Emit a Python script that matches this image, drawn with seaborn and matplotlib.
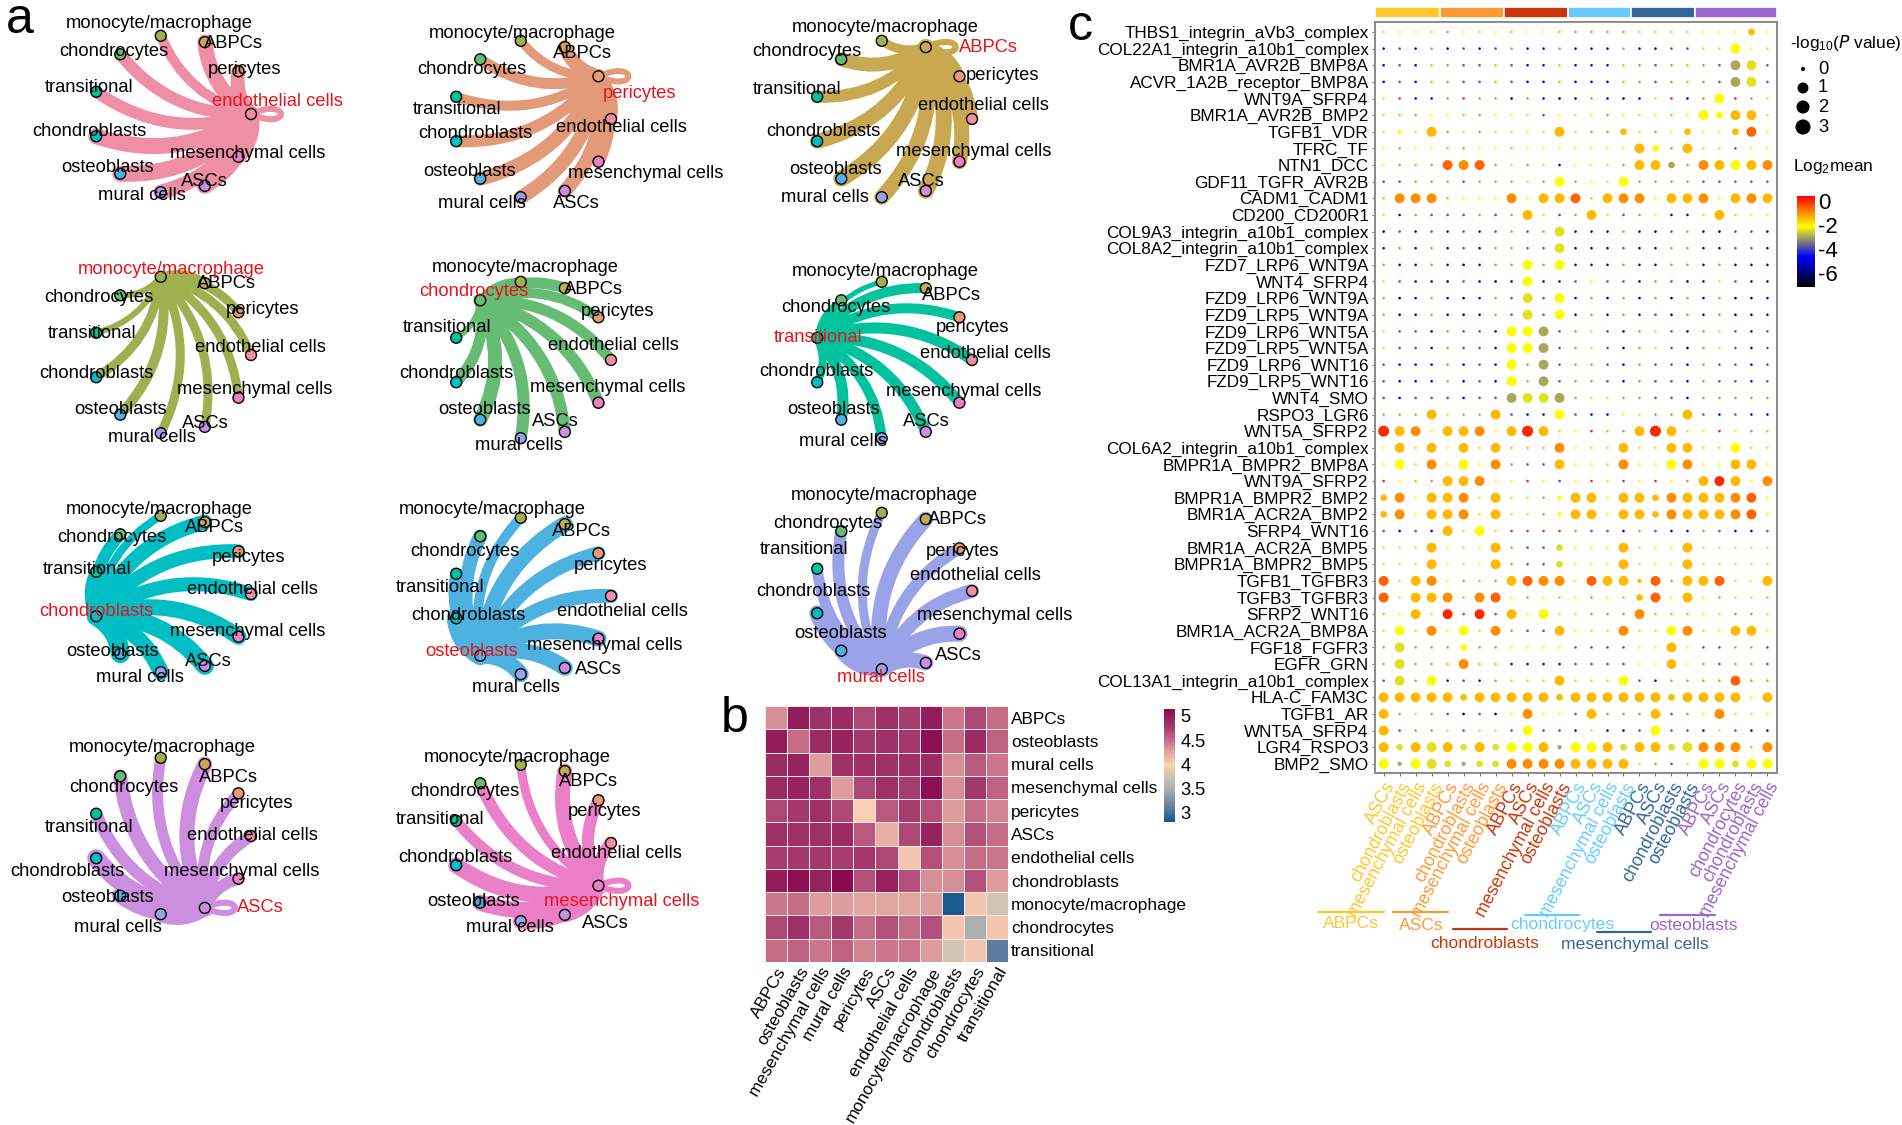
import numpy as np
import pandas as pd
import seaborn as sns
import matplotlib
matplotlib.use("Agg")
import matplotlib.pyplot as plt
from matplotlib.path import Path
from matplotlib.patches import PathPatch
from matplotlib.colors import LinearSegmentedColormap, Normalize
from matplotlib.cm import ScalarMappable

sns.set_style("white")
plt.rcParams['font.family'] = ['Liberation Sans', 'DejaVu Sans']
plt.rcParams['mathtext.default'] = 'regular'
plt.rcParams['text.color'] = 'black'
plt.rcParams['xtick.color'] = 'black'
plt.rcParams['ytick.color'] = 'black'

W, H = 1902, 1125
TXT = 13.2
#------------------------------------
# a: circle networks, one per source cell type
node_names = ['endothelial cells', 'pericytes', 'ABPCs', 'monocyte/macrophage', 'chondrocytes', 'transitional',
              'chondroblasts', 'osteoblasts', 'mural cells', 'ASCs', 'mesenchymal cells']
node_colors = ['#EE8FA5', '#E39A78', '#C8A850', '#A0B050', '#66BB75', '#00C29C',
               '#00BFC4', '#4DB2E0', '#9AA2E8', '#CC8FE0', '#EC80C8']
# source index, centre of the circle
panel_source = [0, 1, 2, 3, 4, 5, 6, 7, 8, 9, 10]
panel_center = [(172, 114), (532, 119), (893, 119), (172, 355), (532, 360), (893, 360),
                (172, 594), (532, 596), (893, 591), (172, 836), (532, 843)]
CIRCLE_R = 79
# edge widths in px, same order as node_names
edge_width = [
    [0, 14, 15, 10, 12, 12, 16, 16, 15, 16, 15],
    [12, 0, 14, 9, 11, 10, 12, 14, 14, 14, 12],
    [12, 11, 0, 9, 14, 12, 15, 16, 15, 16, 15],
    [9, 9, 8, 0, 6, 6, 9, 10, 9, 9, 9],
    [11, 10, 11, 8, 0, 6, 11, 14, 12, 12, 12],
    [11, 10, 10, 5, 5, 0, 8, 11, 10, 11, 11],
    [14, 14, 15, 8, 12, 12, 0, 19, 16, 18, 16],
    [14, 14, 16, 10, 14, 12, 19, 0, 16, 16, 16],
    [14, 12, 15, 9, 12, 11, 16, 15, 0, 15, 16],
    [12, 11, 15, 11, 14, 12, 18, 16, 16, 0, 12],
    [12, 12, 15, 9, 12, 11, 16, 16, 16, 15, 0],
]
self_loop = [6, 6, 6, 0, 0, 0, 0, 0, 0, 6, 6]
# label centres, same order as node_names
label_pos = [
    [(277, 102), (245, 70), (233, 44), (159, 24), (114, 51), (89, 87), (89, 131), (108, 168), (142, 195), (204, 182), (248, 153)],
    [(621, 128), (640, 93), (582, 53), (522, 33), (472, 69), (457, 109), (475, 134), (470, 171), (482, 203), (576, 203), (646, 173)],
    [(983, 106), (1003, 75), (988, 48), (885, 28), (807, 51), (797, 89), (823, 131), (836, 169), (825, 198), (921, 181), (974, 152)],
    [(260, 348), (263, 309), (226, 284), (171, 269), (99, 297), (92, 333), (96, 374), (121, 410), (152, 438), (205, 423), (255, 389)],
    [(613, 346), (618, 311), (593, 289), (525, 267), (474, 291), (447, 327), (456, 374), (485, 409), (519, 445), (555, 421), (608, 388)],
    [(985, 353), (973, 327), (951, 296), (885, 271), (836, 307), (818, 338), (816, 371), (834, 409), (843, 442), (926, 421), (964, 392)],
    [(252, 589), (249, 557), (214, 528), (159, 510), (112, 538), (87, 570), (96, 611), (113, 652), (140, 678), (208, 661), (248, 631)],
    [(622, 612), (611, 566), (581, 531), (492, 510), (465, 551), (440, 587), (468, 616), (472, 651), (516, 687), (598, 670), (605, 646)],
    [(975, 575), (963, 551), (957, 519), (884, 496), (828, 523), (804, 550), (813, 591), (841, 634), (881, 677), (958, 655), (995, 616)],
    [(252, 836), (257, 803), (228, 778), (162, 748), (124, 788), (89, 828), (67, 872), (108, 897), (118, 927), (260, 907), (242, 872)],
    [(616, 854), (605, 811), (588, 781), (517, 757), (465, 792), (440, 819), (455, 857), (474, 901), (510, 928), (605, 923), (622, 901)],
]
#------------------------------------
# b: heatmap
heat_rows = ['ABPCs', 'osteoblasts', 'mural cells', 'mesenchymal cells', 'pericytes', 'ASCs',
             'endothelial cells', 'chondroblasts', 'monocyte/macrophage', 'chondrocytes', 'transitional']
heat_cols = ['ABPCs', 'osteoblasts', 'mesenchymal cells', 'mural cells', 'pericytes', 'ASCs',
             'endothelial cells', 'monocyte/macrophage', 'chondroblasts', 'chondrocytes', 'transitional']
heat_values = [
    [4.35, 5.0, 4.85, 4.9, 4.7, 4.85, 4.75, 5.0, 4.45, 4.7, 4.5],
    [5.0, 4.5, 4.9, 4.95, 4.8, 4.85, 4.8, 5.1, 4.5, 4.9, 4.55],
    [4.9, 4.95, 4.3, 4.85, 4.85, 4.85, 4.85, 4.9, 4.35, 4.6, 4.45],
    [4.9, 4.95, 4.85, 4.3, 4.7, 4.85, 4.75, 5.1, 4.35, 4.8, 4.55],
    [4.7, 4.8, 4.85, 4.7, 4.0, 4.6, 4.75, 4.65, 4.3, 4.5, 4.4],
    [4.85, 4.85, 4.85, 4.9, 4.6, 4.2, 4.7, 4.95, 4.35, 4.65, 4.5],
    [4.75, 4.8, 4.8, 4.75, 4.8, 4.7, 4.05, 4.65, 4.35, 4.5, 4.45],
    [5.0, 5.1, 4.95, 5.15, 4.65, 4.95, 4.65, 4.35, 4.35, 4.65, 4.3],
    [4.45, 4.5, 4.3, 4.3, 4.25, 4.25, 4.25, 4.3, 2.85, 4.05, 3.8],
    [4.7, 4.85, 4.6, 4.8, 4.5, 4.65, 4.5, 4.65, 4.05, 3.5, 4.05],
    [4.5, 4.55, 4.45, 4.55, 4.4, 4.45, 4.45, 4.3, 3.8, 4.05, 3.1],
]
heat_ticks = [3, 3.5, 4, 4.5, 5]
heat_tick_labels = ['3', '3.5', '4', '4.5', '5']
#------------------------------------
# c: dot plot
pairs = ['THBS1_integrin_aVb3_complex', 'COL22A1_integrin_a10b1_complex', 'BMR1A_AVR2B_BMP8A', 'ACVR_1A2B_receptor_BMP8A',
         'WNT9A_SFRP4', 'BMR1A_AVR2B_BMP2', 'TGFB1_VDR', 'TFRC_TF', 'NTN1_DCC', 'GDF11_TGFR_AVR2B', 'CADM1_CADM1',
         'CD200_CD200R1', 'COL9A3_integrin_a10b1_complex', 'COL8A2_integrin_a10b1_complex', 'FZD7_LRP6_WNT9A', 'WNT4_SFRP4',
         'FZD9_LRP6_WNT9A', 'FZD9_LRP5_WNT9A', 'FZD9_LRP6_WNT5A', 'FZD9_LRP5_WNT5A', 'FZD9_LRP6_WNT16', 'FZD9_LRP5_WNT16',
         'WNT4_SMO', 'RSPO3_LGR6', 'WNT5A_SFRP2', 'COL6A2_integrin_a10b1_complex', 'BMPR1A_BMPR2_BMP8A', 'WNT9A_SFRP2',
         'BMPR1A_BMPR2_BMP2', 'BMR1A_ACR2A_BMP2', 'SFRP4_WNT16', 'BMR1A_ACR2A_BMP5', 'BMPR1A_BMPR2_BMP5', 'TGFB1_TGFBR3',
         'TGFB3_TGFBR3', 'SFRP2_WNT16', 'BMR1A_ACR2A_BMP8A', 'FGF18_FGFR3', 'EGFR_GRN', 'COL13A1_integrin_a10b1_complex',
         'HLA-C_FAM3C', 'TGFB1_AR', 'WNT5A_SFRP4', 'LGR4_RSPO3', 'BMP2_SMO']
groups = ['ABPCs', 'ASCs', 'chondroblasts', 'chondrocytes', 'mesenchymal cells', 'osteoblasts']
group_colors = ['#FFC72C', '#FF9933', '#C8360A', '#66CCFF', '#336699', '#9966CC']
group_members = [['ASCs', 'chondroblasts', 'mesenchymal cells', 'osteoblasts'],
                 ['ABPCs', 'chondroblasts', 'mesenchymal cells', 'osteoblasts'],
                 ['ABPCs', 'ASCs', 'mesenchymal cells', 'osteoblasts'],
                 ['ABPCs', 'ASCs', 'mesenchymal cells', 'osteoblasts'],
                 ['ABPCs', 'ASCs', 'chondroblasts', 'osteoblasts'],
                 ['ABPCs', 'ASCs', 'chondrocytes', 'chondroblasts', 'mesenchymal cells']]
# one letter per column: log2 mean
mean_code = {'K': -6.8, 'B': -5.0, 'G': -3.8, 'O': -3.0, 'L': -2.45, 'Y': -2.1, 'A': -1.45, 'o': -1.0, 'D': -0.6, 'R': 0.0}
mean_rows = [
    "LYYLOYLYAYYAooooLLLLYYYAY", "BGBOBGBGOBBOBBBOBKGGLLYYL", "BGBAOGGAGBBABBBAOGOAOGOLG", "BGBAOGGAGBBABBBAOGOAOGOLG",
    "LRBBOROOKOBKKOBKBLRBOYROL", "LAOYYAOYYLGYLYOYLYAYYYAAL", "LYLAOLOLLYLALOOALOYAYYADY", "YOYYAOYYAYYYYYYYAYOALLGYY",
    "YOAODoDoLOLBYYLOAAOOoAYAo", "GGOOOGOOOLOYOYLYOOOOGGGGG", "AoooAYYYoYAADAAooYAAoYAoA", "LBOGGGOGOALGOALGOYBBLALYY",
    "KGBGBGBGOGOLBBBOBKGOBKGGB", "BOBOBGBOOGGLBBBGBBOOBBGGB", "OBBOBKBOOYOYBBBOBBOOBOBBB", "LRBBKRBKBYBBGYGGKORKBLRBB",
    "OKBOBKBOGLGYBOBOBOKOBOKKB", "OKBOBKBOGLGYBOBOBGKOBOKKB", "LGGBOGGBYYOGOLGBOLGBOLGBG", "LGGBOGGBYYOGOLGBOLGBOLGBG",
    "GBBBOBGBYOOGOOGBOGGBOGGBG", "GBBBOBGBYOOGOOGBOGGBOGGBG", "GBGGGBGGOLLOOLLOOGGBOOOOO", "OOOALOOAGBBYGBBYLOOAGBGBB",
    "RAoYAAoYARALYRAOARALYRYOA", "YALAYALAAAAoYLLALLAALLYLL", "YYLoYYYoOGGAYYLoYYYoYYAAY", "RYAOAAoYYRYGYRLGYRYOARAYo",
    "AoYAAoLALLOYAAYAAAoAAAoDY", "AoYAAoLALLOYAAYAAAoAAAoDY", "GBGBALYLRRRROGGBOGBBOGBBG", "LLLAYLYAOGGLYYYALYYALLLLL",
    "LLLAYLYAOGGLYYYALYYALLLLL", "DLAoYOAoADooYDAAADOAADLYA", "DLAAoAoDYoYAYoYAADYAYoLLA", "AYALRRRRAYYLLOOOoAAAYLOOL",
    "LYLoYYLoOGGAYLLoLLYoLYAAY", "OLOOOYOOYYYYGGGGYYAYGGOOG", "OLOOAoAABBBBGGGGYYAYOGOOG", "GLOYBGBOLLLALLLYGBOOooDoo",
    "AAAAAAAAAAAAAAAAAAAAAAAYA", "AOLOGKGKYoYYGAOOOAGOYoLLY", "AROOLRLLGYGGBLBBGYRGBLRBB", "ALALALALYYAOYYALAALLoooAo",
    "YOYLLOLLooooAAAALOGLYYLYY",
]
# one digit per column: -log10 P
p_code = {'0': 0.0, '1': 0.3, '2': 1.0, '3': 2.4, '4': 3.0}
p_rows = [
    "0000000000000000000000020", "0000000000000000000000300", "0000000000000000000000330", "0000000000000000000000330",
    "0000000000000000000003000", "0000000000000000000032330", "0103000000030002000200230", "0000000000000000320300000",
    "0000333000000000332033333", "0000000000030003000000000", "0333000030333033303330333", "0000000003000300000003000",
    "0000000000030000000000000", "0000000000030000000000000", "0000000003030000000000000", "0000000003000000000000000",
    "0000000003030000000000000", "0000000003030000000000000", "0000000033300000000000000", "0000000033300000000000000",
    "0000000030300000000000000", "0000000030300000000000000", "0000000033330000000000000", "0003000300030000000300000",
    "4330333034300000343000000", "0303030300030003003300300", "0303030300030003003300330", "0000333000000000000033303",
    "2303330300013303323333330", "2303330300013303323333330", "0000303000000000000000000", "0003000300020003000300000",
    "0003000300020003000300000", "3033000033330333130333003", "3033303300000000230300000", "0030303030300000300000000",
    "0303030300030003003300330", "0300020000000000003000000", "0300030000000000003000000", "0303000000030003000000300",
    "3333323333323333332333303", "3000000003000300030003000", "3000000003000000030000000", "3233323233313332332333303",
    "3133212233333333000033233",
]
p_legend = [0, 1, 2, 3]
mean_ticks = [0, -2, -4, -6]
mean_tick_labels = ['0', '-2', '-4', '-6']
#------------------------------------
fig = plt.figure(figsize=(W / 100, H / 100), dpi=100)


def px_axes(left, top, right, bottom):
    return fig.add_axes([left / W, 1 - bottom / H, (right - left) / W, (bottom - top) / H])


# a -------------------------------
ax = px_axes(0, 0, W, H)
ax.set_xlim(0, W)
ax.set_ylim(H, 0)
ax.axis('off')
angles = np.arange(11) * 2 * np.pi / 11
for p, src in enumerate(panel_source):
    cx, cy = panel_center[p]
    xs = cx + CIRCLE_R * np.cos(angles)
    ys = cy - CIRCLE_R * np.sin(angles)
    col = node_colors[src]
    for t in range(11):
        if t == src:
            continue
        p0 = np.array([xs[src], ys[src]])
        p1 = np.array([xs[t], ys[t]])
        d = p1 - p0
        ctrl = (p0 + p1) / 2 + 0.25 * np.array([d[1], -d[0]])
        path = Path([p0, ctrl, p1], [Path.MOVETO, Path.CURVE3, Path.CURVE3])
        ax.add_patch(PathPatch(path, fc='none', ec=col, lw=edge_width[src][t] * 0.72, capstyle='round', zorder=2))
    if self_loop[src]:
        n = np.array([xs[src], ys[src]])
        path = Path([n, n + (40, -18), n + (40, 18), n], [Path.MOVETO, Path.CURVE4, Path.CURVE4, Path.CURVE4])
        ax.add_patch(PathPatch(path, fc='none', ec=col, lw=self_loop[src] * 0.72, zorder=2))
    ax.scatter(xs, ys, s=62, c=node_colors, edgecolors='black', linewidths=1, zorder=3)
    for t in range(11):
        lx, ly = label_pos[p][t]
        ax.text(lx, ly, node_names[t], ha='center', va='center', fontsize=TXT,
                color='#E8141C' if t == src else 'black', zorder=4)

ax.text(6, 33, 'a', fontsize=36, va='baseline', ha='left')
ax.text(721, 732, 'b', fontsize=36, va='baseline', ha='left')
ax.text(1068, 40, 'c', fontsize=36, va='baseline', ha='left')

# b -------------------------------
heat_cmap = LinearSegmentedColormap.from_list('heat', [
    (0.0, '#14558F'), (0.13, '#6280A0'), (0.3, '#B0B0B0'), (0.42, '#D0C4B4'), (0.5, '#FCD3B5'),
    (0.63, '#E0A29F'), (0.72, '#C76E88'), (0.83, '#A83F70'), (1.0, '#8A0A50')])
df_heat = pd.DataFrame(heat_values, index=heat_rows, columns=heat_cols)
ax_h = px_axes(765, 706, 1008, 962)
ax_cb = px_axes(1164, 709, 1175, 822)
sns.heatmap(df_heat, ax=ax_h, cmap=heat_cmap, vmin=2.81, vmax=5.14, linewidths=0.5, linecolor='#F7E8E4',
            cbar_ax=ax_cb, cbar_kws={'ticks': heat_ticks})
ax_h.yaxis.tick_right()
ax_h.tick_params(axis='both', length=0, pad=2)
ax_h.set_yticklabels(heat_rows, rotation=0, fontsize=12.4)
ax_h.set_xticklabels(heat_cols, rotation=60, ha='right', rotation_mode='anchor', fontsize=12.4)
ax_cb.set_yticks(heat_ticks)
ax_cb.set_yticklabels(heat_tick_labels)
ax_cb.tick_params(length=0, labelsize=TXT, pad=4)
ax_h.collections[0].colorbar.outline.set_visible(False)

# c -------------------------------
mean_cmap = LinearSegmentedColormap.from_list('mean', ['black', 'blue', 'yellow', 'red'])
mean_norm = Normalize(-7.2, 0.4)
n_rows, n_cols = len(pairs), len(mean_rows[0])
df_dot = pd.DataFrame({
    'x': np.tile(np.arange(n_cols), n_rows),
    'y': np.repeat(np.arange(n_rows), n_cols),
    'mean': [mean_code[c] for r in mean_rows for c in r],
    'p': [p_code[c] for r in p_rows for c in r],
})
ax_d = px_axes(1375, 22, 1777, 773)
sns.scatterplot(data=df_dot, x='x', y='y', hue='mean', size='p', palette=mean_cmap, hue_norm=mean_norm,
                sizes=(3.5, 63), size_norm=(0, 3), linewidth=0, legend=False, ax=ax_d)
ax_d.set_xlim(-0.54, 24.6)
ax_d.set_ylim(44.55, -0.6)
ax_d.set_xlabel('')
ax_d.set_ylabel('')
ax_d.set_yticks(np.arange(n_rows))
ax_d.set_yticklabels(pairs, fontsize=12.3)
col_labels = [m for g in group_members for m in g]
col_colors = [group_colors[i] for i, g in enumerate(group_members) for m in g]
ax_d.set_xticks(np.arange(n_cols))
ax_d.set_xticklabels(col_labels, rotation=62, ha='right', rotation_mode='anchor', fontsize=12.8)
for lab, c in zip(ax_d.get_xticklabels(), col_colors):
    lab.set_color(c)
ax_d.tick_params(axis='both', length=2.5, width=0.7, color='#666666', pad=2, bottom=True, left=True)
for s in ax_d.spines.values():
    s.set_color('#8A8A8A')
    s.set_linewidth(1.4)

# annotation bar over the columns
ax_b = px_axes(1375, 7, 1777, 18)
ax_b.set_xlim(-0.54, 24.6)
ax_b.set_ylim(-0.5, 0.5)
ax_b.axis('off')
block_edges = np.cumsum([0] + [len(g) for g in group_members]) - 0.5
block_edges[0], block_edges[-1] = -0.54, 24.6
ax_b.barh([0] * 6, np.diff(block_edges), left=block_edges[:-1], height=1, color=group_colors, edgecolor='white', linewidth=1.2)

# group labels under the columns
group_line = [(1318, 1384, 912), (1393, 1448, 912), (1453, 1507, 929), (1525, 1579, 915), (1597, 1651, 932), (1660, 1715, 915)]
group_text = [(1351, 924), (1421, 925), (1485, 943), (1562, 925), (1635, 944), (1693, 925)]
for g, c, l, t in zip(groups, group_colors, group_line, group_text):
    ax.plot([l[0], l[1]], [l[2], l[2]], color=c, lw=1.6, zorder=5)
    ax.text(t[0], t[1], g, color=c, ha='center', va='center', fontsize=12.6, zorder=5)

# size legend
ax.text(1790, 43, r'-log$_{10}$($\mathit{P}$ value)', fontsize=12.4, ha='left', va='center')
legend_y = [69, 88, 107, 127]
legend_s = [9, 62, 88, 118]
ax.scatter([1803] * 4, legend_y, s=legend_s, c='black', linewidths=0, zorder=5)
for v, y in zip(p_legend, legend_y):
    ax.text(1823, y, str(v), fontsize=TXT, ha='center', va='center')

# colour legend
ax.text(1793, 166, r'Log$_2$mean', fontsize=12.4, ha='left', va='center')
ax_m = px_axes(1797, 196, 1815, 287)
cb = fig.colorbar(ScalarMappable(norm=mean_norm, cmap=mean_cmap), cax=ax_m, ticks=mean_ticks)
cb.outline.set_visible(False)
ax_m.set_yticks(mean_ticks)
ax_m.set_yticklabels(mean_tick_labels)
ax_m.tick_params(length=0, labelsize=16, pad=2)

fig.savefig('out.png', dpi=100, facecolor='white')
